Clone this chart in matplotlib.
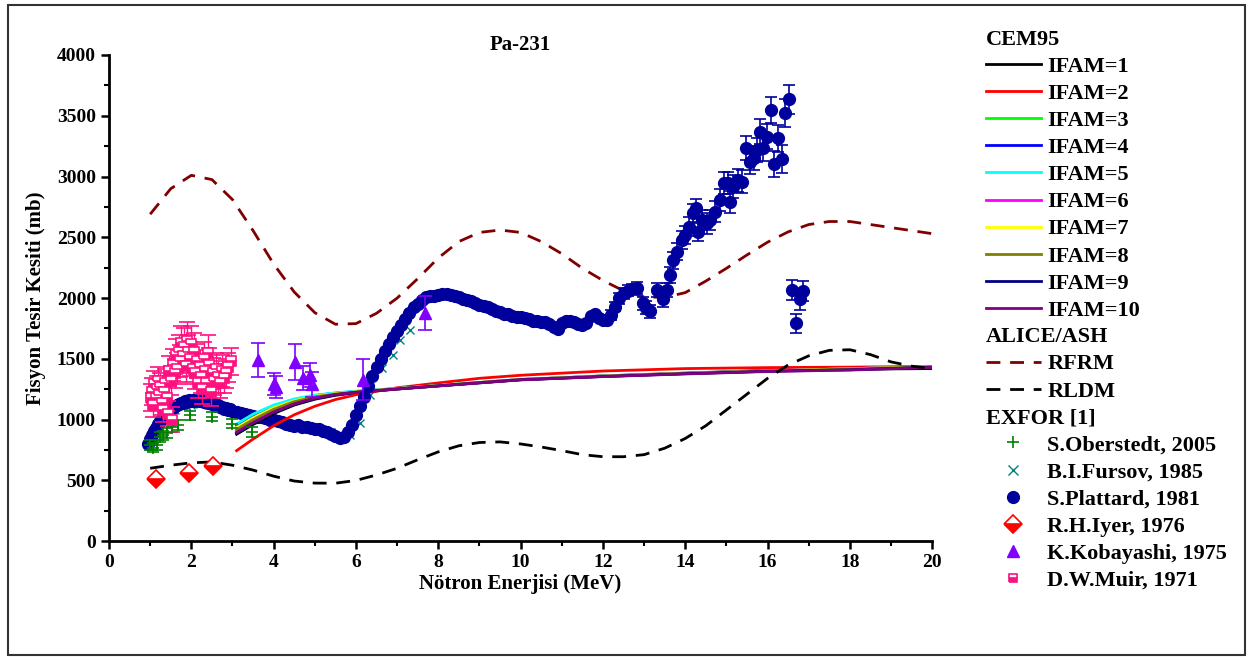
import numpy as np
import matplotlib
matplotlib.use('Agg')
import matplotlib.pyplot as plt
from matplotlib.lines import Line2D
from matplotlib.patches import Rectangle

plt.rcParams['font.family'] = 'Liberation Serif'
plt.rcParams['font.weight'] = 'bold'

# CEM95 curves (IFAM = 1..10), shared energy grid
cem_e = [3.1, 3.5, 4.0, 4.5, 5.0, 5.5, 6.0, 7.0, 8.0, 9.0, 10.0, 12.0, 14.0, 16.0, 18.0, 20.0]
ifam1 = [880, 960, 1050, 1120, 1168, 1200, 1222, 1252, 1278, 1305, 1330, 1360, 1383, 1405, 1415, 1420]
ifam2 = [745, 840, 950, 1040, 1110, 1165, 1205, 1262, 1302, 1340, 1365, 1400, 1420, 1428, 1432, 1438]
ifam3 = [945, 1025, 1105, 1160, 1195, 1215, 1230, 1255, 1280, 1305, 1330, 1358, 1380, 1400, 1418, 1435]
ifam4 = [955, 1035, 1112, 1165, 1198, 1218, 1232, 1256, 1280, 1305, 1330, 1357, 1380, 1400, 1418, 1436]
ifam5 = [965, 1045, 1120, 1170, 1202, 1220, 1234, 1257, 1281, 1306, 1331, 1358, 1380, 1401, 1419, 1437]
ifam6 = [905, 985, 1070, 1135, 1180, 1208, 1226, 1254, 1279, 1305, 1330, 1357, 1380, 1401, 1420, 1438]
ifam7 = [935, 1015, 1098, 1155, 1192, 1214, 1229, 1255, 1280, 1305, 1330, 1357, 1380, 1400, 1419, 1436]
ifam8 = [920, 1000, 1085, 1148, 1188, 1211, 1228, 1254, 1279, 1304, 1329, 1356, 1379, 1399, 1417, 1435]
ifam9 = [890, 970, 1060, 1128, 1175, 1205, 1224, 1252, 1278, 1303, 1328, 1355, 1378, 1398, 1410, 1432]
ifam10 = [895, 975, 1062, 1130, 1176, 1206, 1225, 1252, 1277, 1302, 1327, 1354, 1376, 1396, 1408, 1430]
ifam_curves = [ifam1, ifam2, ifam3, ifam4, ifam5, ifam6, ifam7, ifam8, ifam9, ifam10]
ifam_colors = ['black', '#FF0000', '#00FF00', '#0000FF', '#00FFFF',
               '#FF00FF', '#FFFF00', '#808000', '#000080', '#800080']

# ALICE/ASH
alice_e = [1.0, 1.5, 2.0, 2.5, 3.0, 3.5, 4.0, 4.5, 5.0, 5.5, 6.0, 6.5, 7.0, 7.5,
           8.0, 8.5, 9.0, 9.5, 10.0, 10.5, 11.0, 11.5, 12.0, 12.5, 13.0, 13.5,
           14.0, 14.5, 15.0, 15.5, 16.0, 16.5, 17.0, 17.5, 18.0, 18.5, 19.0, 19.5, 20.0]
rfrm = [2690, 2900, 3010, 2975, 2810, 2555, 2280, 2050, 1880, 1785, 1790, 1875, 2000, 2160,
        2330, 2465, 2540, 2560, 2540, 2465, 2365, 2245, 2145, 2060, 2010, 2005,
        2045, 2140, 2245, 2355, 2460, 2545, 2605, 2630, 2630, 2605, 2580, 2555, 2530]
rldm = [600, 625, 645, 652, 625, 585, 535, 495, 478, 477, 500, 545, 600, 670,
        735, 785, 812, 817, 800, 775, 745, 712, 695, 695, 712, 765,
        845, 950, 1080, 1210, 1340, 1450, 1525, 1570, 1575, 1535, 1475, 1440, 1420]

# EXFOR
oberstedt_e = [1.0, 1.08, 1.16, 1.24, 1.32, 1.4, 1.52, 1.68, 1.97, 2.5, 2.98, 3.47]
oberstedt_s = [790, 770, 790, 858, 870, 890, 940, 955, 1035, 1025, 968, 900]
oberstedt_err = [40, 40, 40, 40, 40, 40, 40, 40, 40, 40, 40, 40]

fursov_e = [0.98, 1.2, 1.4, 1.6, 1.8, 2.0, 2.2, 2.4, 2.6, 2.8, 3.0, 3.3, 3.6, 3.9,
            4.2, 4.5, 4.88, 5.13, 5.4, 5.65, 5.86, 6.1, 6.35, 6.63, 6.91, 7.07, 7.31]
fursov_s = [790, 930, 1020, 1080, 1110, 1120, 1125, 1120, 1105, 1090, 1070, 1045, 1020, 995,
            970, 950, 940, 925, 900, 860, 870, 969, 1200, 1421, 1530, 1654, 1737]

plattard_e = [0.95, 1.00, 1.05, 1.10, 1.15, 1.20, 1.25, 1.30, 1.35, 1.40, 1.45, 1.50, 1.55,
              1.60, 1.65, 1.70, 1.75, 1.80, 1.85, 1.90, 1.95, 2.00, 2.05, 2.10, 2.15, 2.20,
              2.25, 2.30, 2.35, 2.40, 2.45, 2.50, 2.55, 2.60, 2.65, 2.70, 2.75, 2.80, 2.85,
              2.90, 2.95, 3.00,
              3.1, 3.2, 3.3, 3.4, 3.5, 3.6, 3.7, 3.8, 3.9, 4.0, 4.1, 4.2, 4.3, 4.4, 4.5,
              4.6, 4.7, 4.8, 4.9, 5.0, 5.1, 5.2, 5.3, 5.4, 5.5, 5.6, 5.7, 5.8, 5.9, 6.0,
              6.1, 6.2, 6.3, 6.4, 6.5, 6.6, 6.7, 6.8, 6.9, 7.0, 7.1, 7.2, 7.3, 7.4, 7.5,
              7.6, 7.7, 7.8, 7.9, 8.0, 8.1, 8.2, 8.3, 8.4, 8.5, 8.6, 8.7, 8.8, 8.9, 9.0,
              9.1, 9.2, 9.3, 9.4, 9.5, 9.6, 9.7, 9.8, 9.9, 10.0, 10.1, 10.2, 10.3, 10.4,
              10.5, 10.6, 10.7, 10.8, 10.9, 11.0, 11.1, 11.2, 11.3, 11.4, 11.5, 11.6,
              11.7, 11.8, 11.9, 12.0, 12.1]
plattard_s = [800, 840, 870, 905, 930, 965, 990, 1010, 1035, 1050, 1070, 1085, 1095,
              1110, 1120, 1125, 1140, 1135, 1150, 1145, 1160, 1150, 1165, 1155, 1160, 1150,
              1165, 1145, 1150, 1135, 1140, 1125, 1130, 1115, 1120, 1100, 1105, 1090, 1095,
              1080, 1085, 1070,
              1065, 1058, 1050, 1040, 1032, 1025, 1018, 1010, 1000, 993, 985, 978, 968, 958, 950,
              952, 942, 936, 932, 925, 920, 910, 900, 885, 868, 850, 858, 895, 960, 1040,
              1110, 1190, 1280, 1360, 1430, 1500, 1565, 1625, 1680, 1730, 1780, 1830, 1880, 1925, 1955,
              1985, 2005, 2015, 2020, 2025, 2030, 2035, 2028, 2018, 2005, 1995, 1985, 1975, 1960, 1945,
              1935, 1925, 1910, 1895, 1885, 1870, 1865, 1855, 1848, 1842, 1835, 1825, 1815, 1808,
              1805, 1800, 1790, 1765, 1745, 1795, 1815, 1810, 1800, 1790, 1780, 1795,
              1850, 1870, 1840, 1820, 1818]
plattard_hi_e = [12.2, 12.3, 12.4, 12.5, 12.6, 12.7, 12.82, 12.98, 13.05, 13.15, 13.31, 13.47,
                 13.55, 13.63, 13.71, 13.8, 13.92, 14.0, 14.08, 14.2, 14.26, 14.32, 14.4, 14.52,
                 14.6, 14.73, 14.85, 14.93, 15.05, 15.09, 15.17, 15.29, 15.38, 15.48, 15.58,
                 15.66, 15.74, 15.82, 15.9, 15.98, 16.08, 16.16, 16.26, 16.35, 16.43, 16.51,
                 16.6, 16.69, 16.79, 16.87]
plattard_hi_s = [1860, 1930, 2000, 2040, 2060, 2075, 2085, 1956, 1920, 1890, 2066, 1990,
                 2066, 2189, 2313, 2381, 2477, 2519, 2587, 2697, 2738, 2546, 2642, 2615,
                 2642, 2710, 2807, 2944, 2944, 2793, 2916, 2971, 2957, 3232, 3122,
                 3150, 3218, 3369, 3232, 3328, 3547, 3103, 3314, 3141, 3525, 3635,
                 2066, 1792, 1989, 2058]
plattard_hi_err = [40, 40, 45, 45, 45, 45, 50, 55, 55, 55, 60, 60,
                   60, 65, 70, 70, 75, 75, 80, 80, 80, 80, 80, 85,
                   85, 85, 90, 90, 90, 90, 95, 95, 95, 100, 100,
                   100, 100, 105, 105, 105, 110, 110, 110, 115, 115, 120,
                   85, 80, 85, 85]

iyer_e = [1.13, 1.94, 2.52]
iyer_s = [515, 560, 615]

kobayashi_e = [3.63, 4.0, 4.05, 4.52, 4.72, 4.88, 4.93, 6.18, 7.68]
kobayashi_s = [1490, 1295, 1265, 1476, 1345, 1365, 1290, 1330, 1875]
kobayashi_err = [140, 90, 90, 150, 100, 100, 100, 165, 140]

muir_e = [1.02, 1.05, 1.08, 1.1, 1.13, 1.16, 1.19, 1.22, 1.25, 1.28, 1.3, 1.33, 1.36, 1.4,
          1.43, 1.46, 1.5, 1.53, 1.56, 1.6, 1.63, 1.66, 1.7, 1.73, 1.76, 1.8, 1.83, 1.86,
          1.9, 1.93, 1.96, 2.0, 2.03, 2.06, 2.1, 2.13, 2.16, 2.2, 2.23, 2.26, 2.3, 2.33,
          2.36, 2.4, 2.44, 2.48, 2.52, 2.56, 2.6, 2.65, 2.7, 2.75, 2.8, 2.85, 2.9, 2.96]
muir_s = [1180, 1230, 1120, 1290, 1180, 1250, 1320, 1200, 1270, 1140, 1080, 1230, 1300, 1180,
          1050, 1400, 1320, 1000, 1450, 1380, 1530, 1420, 1560, 1480, 1630, 1520, 1600, 1440,
          1650, 1560, 1500, 1620, 1420, 1560, 1380, 1480, 1300, 1430, 1350, 1250, 1500, 1400,
          1300, 1550, 1450, 1230, 1380, 1320, 1420, 1350, 1300, 1400, 1340, 1380, 1430, 1480]
muir_err = [110, 110, 100, 110, 100, 110, 110, 100, 110, 100, 100, 110, 120, 110,
            100, 120, 120, 100, 130, 120, 130, 130, 140, 130, 140, 140, 150, 130,
            150, 140, 140, 150, 130, 150, 130, 140, 120, 140, 130, 120, 140, 130,
            120, 150, 140, 120, 130, 120, 130, 130, 120, 130, 120, 120, 120, 110]

ifam_labels = ['IFAM=%d' % i for i in range(1, 11)]

fig = plt.figure(figsize=(12.53, 6.6), dpi=100)
ax = fig.add_axes([0.087, 0.180, 0.657, 0.7367])

navy = '#00009C'
pink = '#FF1080'
pe = np.array(plattard_e)
ps = np.array(plattard_s)
low = pe < 5.0
msp = 8.5

ax.plot(fursov_e, fursov_s, 'x', color='#008080', ms=6, mew=1.0, zorder=2)
ax.plot(pe[low], ps[low], 'o', color=navy, ms=msp, zorder=3)

lw = 2.0
for vals, col in zip(ifam_curves, ifam_colors):
    ax.plot(cem_e, vals, '-', color=col, lw=lw, zorder=4)

ax.plot(alice_e, rfrm, color='#800000', lw=lw, dashes=(5, 3.5), zorder=4)
ax.plot(alice_e, rldm, color='black', lw=lw, dashes=(5, 3.5), zorder=4)

ax.plot(pe[~low], ps[~low], 'o', color=navy, ms=msp, zorder=5)
ax.errorbar(plattard_hi_e, plattard_hi_s, yerr=plattard_hi_err, fmt='o', color=navy,
            ms=msp, elinewidth=1.2, capsize=4, capthick=1.2, zorder=5)

ax.errorbar(oberstedt_e, oberstedt_s, yerr=oberstedt_err, fmt='+', color='#008000',
            ms=8, mew=1.2, elinewidth=1.2, capsize=4, capthick=1.2, zorder=6)
ax.errorbar(muir_e, muir_s, yerr=muir_err, fmt='s', color=pink, mfc=pink,
            mec=pink, fillstyle='bottom', markerfacecoloralt='white', ms=7, mew=1.2,
            elinewidth=1.0, capsize=6, capthick=1.0, zorder=6)
ax.errorbar(kobayashi_e, kobayashi_s, yerr=kobayashi_err, fmt='^', color='#8000FF',
            ms=9, elinewidth=1.2, capsize=5, capthick=1.2, zorder=7)
ax.plot(iyer_e, iyer_s, 'D', color='#FF0000', mec='#FF0000', fillstyle='bottom',
        markerfacecoloralt='white', ms=9, mew=1.2, zorder=7)

ax.set_xlim(0, 20)
ax.set_ylim(0, 4000)
ax.set_xticks(np.arange(0, 21, 2))
ax.set_xticks(np.arange(0, 21, 1), minor=True)
ax.set_yticks(np.arange(0, 4001, 500))
ax.set_yticks(np.arange(0, 4001, 250), minor=True)
for s in ['top', 'right']:
    ax.spines[s].set_visible(False)
for s in ['left', 'bottom']:
    ax.spines[s].set_linewidth(2.0)
ax.tick_params(which='major', direction='out', length=6, width=1.8, labelsize=14)
ax.tick_params(which='minor', direction='out', length=3.5, width=1.5)
for lab in ax.get_xticklabels() + ax.get_yticklabels():
    lab.set_fontweight('bold')

ax.set_xlabel('Nötron Enerjisi (MeV)', fontsize=15, fontweight='bold', labelpad=2)
ax.set_ylabel('Fisyon Tesir Kesiti (mb)', fontsize=15, fontweight='bold', labelpad=8)
ax.set_title('Pa-231', fontsize=15, fontweight='bold', pad=-2)

# legend with section headers
blank = Line2D([], [], color='none')
handles = [blank]
labels = ['CEM95']
for col, lab in zip(ifam_colors, ifam_labels):
    handles.append(Line2D([], [], color=col, lw=lw))
    labels.append(lab)
handles += [blank,
            Line2D([], [], color='#800000', lw=lw, dashes=(5, 3.5)),
            Line2D([], [], color='black', lw=lw, dashes=(5, 3.5)),
            blank,
            Line2D([], [], ls='none', marker='+', color='#008000', ms=8, mew=1.2),
            Line2D([], [], ls='none', marker='x', color='#008080', ms=7, mew=1.0),
            Line2D([], [], ls='none', marker='o', color=navy, ms=msp),
            Line2D([], [], ls='none', marker='D', color='#FF0000', fillstyle='bottom',
                   markerfacecoloralt='white', ms=9, mew=1.2),
            Line2D([], [], ls='none', marker='^', color='#8000FF', ms=9),
            Line2D([], [], ls='none', marker='s', color=pink, fillstyle='bottom',
                   markerfacecoloralt='white', ms=6, mew=1.2)]
labels += ['ALICE/ASH', 'RFRM', 'RLDM', 'EXFOR [1]',
           'S.Oberstedt, 2005', 'B.I.Fursov, 1985', 'S.Plattard, 1981',
           'R.H.Iyer, 1976', 'K.Kobayashi, 1975', 'D.W.Muir, 1971']
headers = {'CEM95', 'ALICE/ASH', 'EXFOR [1]'}

leg = fig.legend(handles, labels, loc='upper left', bbox_to_anchor=(0.787, 0.955),
                 frameon=False, handlelength=2.45, handletextpad=0.3,
                 labelspacing=0.295, borderpad=0, borderaxespad=0, numpoints=1,
                 prop={'weight': 'bold', 'size': 16})
for col in leg._legend_handle_box.get_children():
    for row in col.get_children():
        kids = row.get_children()
        txt = kids[1].get_children()[0].get_text()
        if txt in headers:
            kids[:] = [kids[1]]

fig.add_artist(Rectangle((0.006, 0.008), 0.988, 0.984, transform=fig.transFigure,
                         fill=False, lw=1.5, edgecolor='#333333'))

fig.savefig('out.png', dpi=100)
